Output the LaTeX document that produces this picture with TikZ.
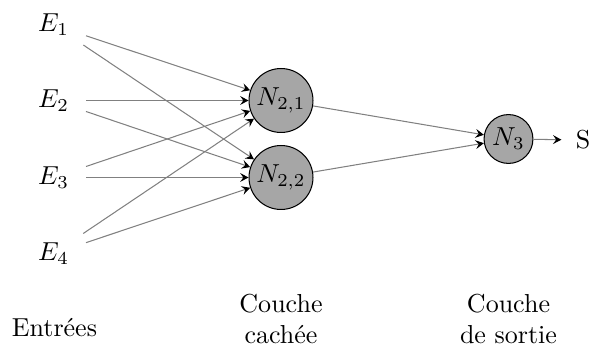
\documentclass[tikz,border=0pt]{standalone}
\usetikzlibrary{arrows.meta}
\begin{document}
\begin{tikzpicture}[x=0.3846pt,y=-0.3846pt,
  inp/.style={minimum width=24.6pt,inner ysep=3.33pt},
  neuron/.style={circle,draw=black,fill=gray!70,inner sep=0pt},
  hid/.style={neuron,minimum size=24.6pt},
  outn/.style={neuron,minimum size=18.8pt},
  lbl/.style={align=center,anchor=north},
  conn/.style={draw=gray,-{Stealth[black,length=3.2pt,width=3.4pt,inset=1.2pt]}}]
\useasboundingbox (0,0) rectangle (591,358);
\node[inp] (E1) at (53.5,25) {$E_1$};
\node[inp] (E2) at (53.5,100.5) {$E_2$};
\node[inp] (E3) at (53.5,177.5) {$E_3$};
\node[inp] (E4) at (53.5,253.5) {$E_4$};
\node[hid] (N21) at (281,100.5) {$N_{2,1}$};
\node[hid] (N22) at (281,177.5) {$N_{2,2}$};
\node[outn] (N3) at (508.5,139) {$N_3$};
\node (S) at (583,140) {S};
\foreach \i in {1,2,3,4}{
  \draw[conn] (E\i) -- (N21);
  \draw[conn] (E\i) -- (N22);
}
\draw[conn] (N21) -- (N3);
\draw[conn] (N22) -- (N3);
\draw[conn,shorten >=2pt] (N3) -- (S);
\node[anchor=base] (Lin) at (54.5,337) {Entrées};
\node[lbl] (Lhid) at (281,285) {Couche\\cachée};
\node[lbl] (Lout) at (508.5,285) {Couche\\de sortie};
\end{tikzpicture}
\end{document}
